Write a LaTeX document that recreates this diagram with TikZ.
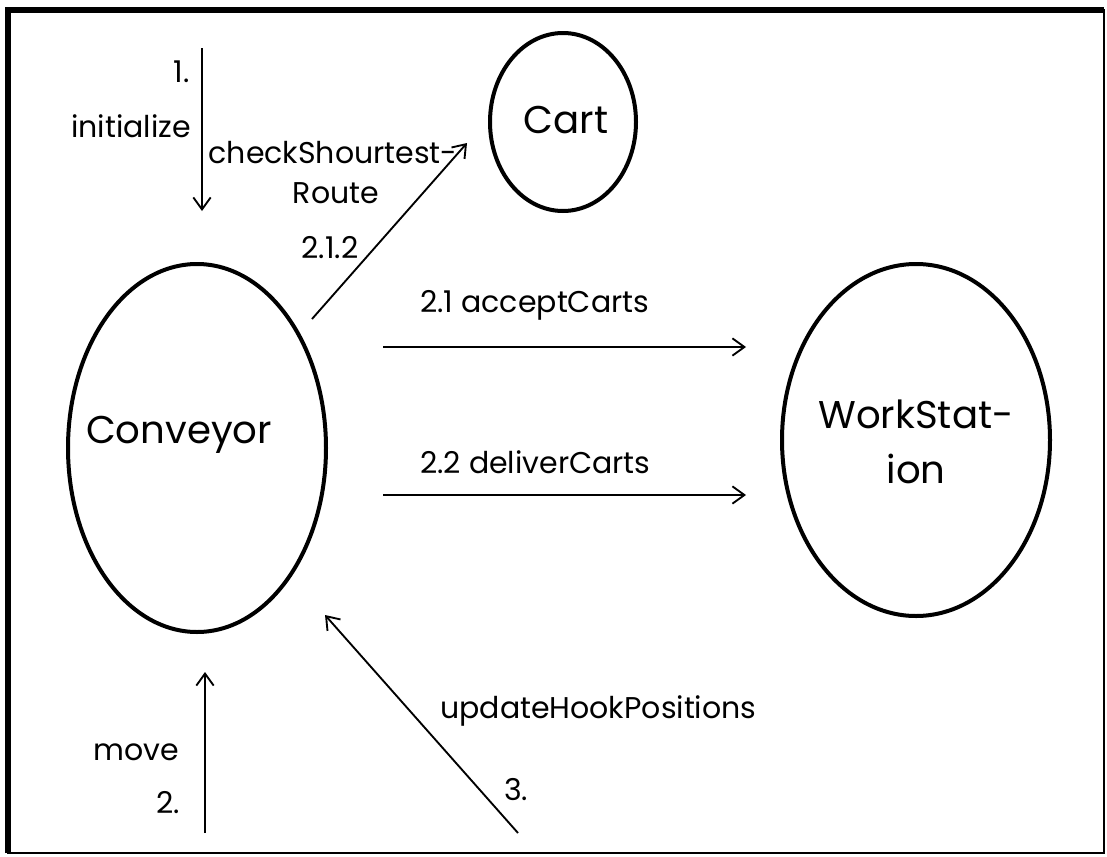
\documentclass[tikz,border=0pt]{standalone}
\usepackage{fontspec}
\setmainfont{Poppins}
\usetikzlibrary{shapes.geometric,arrows.meta}
\begin{document}
\begin{tikzpicture}[x=0.75pt,y=-0.75pt,
  obj/.style={draw, ellipse, line width=3pt, inner sep=0pt},
  msg/.style={line width=1.4pt, -{Straight Barb[length=9pt,width=13pt]}},
  small/.style={font=\fontsize{22.5}{27}\selectfont, inner sep=0pt},
  big/.style={font=\fontsize{29}{41}\selectfont, inner sep=0pt}]
\useasboundingbox (0,0) rectangle (1107,857);

% frame: heavier on top and left
\draw[line width=1.9pt] (8,10) rectangle (1104,853);
\draw[line width=3.8pt] (8,853) -- (8,10) -- (1104,10);

% objects
\node[obj, minimum width=193.5pt, minimum height=276pt] (conv) at (197,448) {};
\node[obj, minimum width=109.5pt, minimum height=133.5pt] (cart) at (563,122) {};
\node[obj, minimum width=201pt, minimum height=264pt] (ws) at (916,440) {};

\node[big, anchor=base] (convtxt) at (179,443) {Conveyor};
\node[big, anchor=base] (carttxt) at (566,133) {Cart};
\node[big, anchor=base] (wstxt1) at (916,428) {WorkStat-};
\node[big, anchor=base] (wstxt2) at (916,483) {ion};

% message end points
\coordinate (a1s) at (202,48);
\coordinate (a1e) at (202,211);
\coordinate (a2s) at (312,319);
\coordinate (a2e) at (467,143);
\coordinate (a3s) at (383,347);
\coordinate (a3e) at (746,347);
\coordinate (a4s) at (383,495);
\coordinate (a4e) at (746,495);
\coordinate (a5s) at (205,833);
\coordinate (a5e) at (205,672);
\coordinate (a6s) at (518,833);
\coordinate (a6e) at (325,615);

\draw[msg] (a1s) -- (a1e);
\draw[msg] (a2s) -- (a2e);
\draw[msg] (a3s) -- (a3e);
\draw[msg] (a4s) -- (a4e);
\draw[msg] (a5s) -- (a5e);
\draw[msg] (a6s) -- (a6e);

% message labels
\node[small, anchor=base east] (l1n) at (190,82) {1.};
\node[small, anchor=base] (l1) at (131,137) {initialize};
\node[small, anchor=base] (l2a) at (333,163) {checkShourtest-};
\node[small, anchor=base] (l2b) at (336,203) {Route};
\node[small, anchor=base] (l2n) at (330,258) {2.1.2};
\node[small, anchor=base west] (l3) at (420,312) {2.1 acceptCarts};
\node[small, anchor=base west] (l4) at (420,473) {2.2 deliverCarts};
\node[small, anchor=base west] (l5) at (93,760) {move};
\node[small, anchor=base east] (l5n) at (180,813) {2.};
\node[small, anchor=base west] (l6) at (440,718) {updateHookPositions};
\node[small, anchor=base west] (l6n) at (504,800) {3.};
\end{tikzpicture}
\end{document}
